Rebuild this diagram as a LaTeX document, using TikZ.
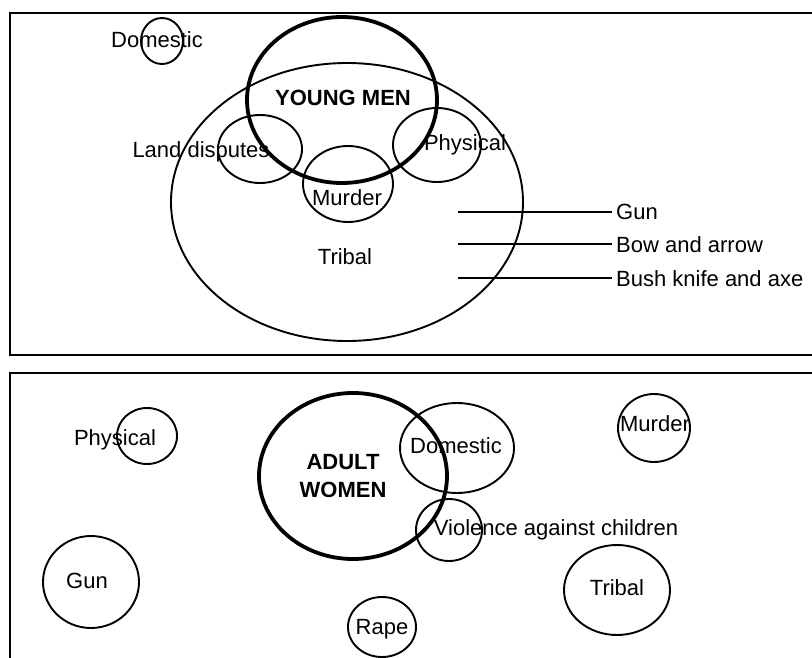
\documentclass[tikz,border=0pt]{standalone}
\usepackage{fontspec}
\setmainfont{Liberation Sans}
\usetikzlibrary{shapes.geometric}
\tikzset{
  ring/.style={draw, ellipse, line width=1.9pt, inner sep=0pt},
  thickring/.style={draw, ellipse, line width=3.8pt, inner sep=0pt},
  lbl/.style={inner sep=0pt, anchor=base, font=\fontsize{22}{28}\selectfont},
  boldlbl/.style={lbl, font=\fontsize{22}{28}\selectfont\bfseries},
  frame/.style={line width=2.6pt},
  weapon/.style={line width=2.8pt}
}
\begin{document}
\begin{tikzpicture}[x=1pt,y=-1pt]
\useasboundingbox (0,0) rectangle (812,658);
% frames
\draw[frame] (815,13) -- (10,13) -- (10,355) -- (815,355);
\draw[frame] (815,373) -- (10,373) -- (10,661);

% ---- top panel ----
\node[ring, minimum width=352pt, minimum height=278pt] (tribalE) at (347,202) {};
\node[ring, minimum width=42pt, minimum height=46pt] (domE) at (162,41) {};
\node[ring, minimum width=84pt, minimum height=68pt] (landE) at (260,149) {};
\node[ring, minimum width=90pt, minimum height=76pt] (murE) at (348,184) {};
\node[ring, minimum width=88pt, minimum height=74pt] (phyE) at (437,145) {};
\node[thickring, minimum width=190pt, minimum height=166pt] (ymE) at (342,100) {};

\node[lbl] (domT) at (157,48) {Domestic};
\node[boldlbl] (ymT) at (343,106) {YOUNG MEN};
\node[lbl] (landT) at (201,158) {Land disputes};
\node[lbl] (phyT) at (465,151) {Physical};
\node[lbl] (murT) at (347,206) {Murder};
\node[lbl] (tribT) at (345,265) {Tribal};

\node[lbl, anchor=base west] (gunT) at (616,220) {Gun};
\node[lbl, anchor=base west] (bowT) at (616,252) {Bow and arrow};
\node[lbl, anchor=base west] (bushT) at (616,286) {Bush knife and axe};
\coordinate (g0) at (458,212);
\coordinate (b0) at (458,244);
\coordinate (k0) at (458,278);
\draw[weapon] (g0) -- ([xshift=-4pt]gunT.west |- g0);
\draw[weapon] (b0) -- ([xshift=-4pt]bowT.west |- b0);
\draw[weapon] (k0) -- ([xshift=-4pt]bushT.west |- k0);

% ---- bottom panel ----
\node[ring, minimum width=60pt, minimum height=56pt] (phy2E) at (147,436) {};
\node[thickring, minimum width=188pt, minimum height=166pt] (awE) at (353,476) {};
\node[ring, minimum width=114pt, minimum height=90pt] (dom2E) at (457,448) {};
\node[ring, minimum width=72pt, minimum height=68pt] (mur2E) at (654,428) {};
\node[ring, minimum width=66pt, minimum height=62pt] (vioE) at (449,530) {};
\node[ring, minimum width=96pt, minimum height=92pt] (gun2E) at (91,582) {};
\node[ring, minimum width=106pt, minimum height=90pt] (trib2E) at (617,590) {};
\node[ring, minimum width=68pt, minimum height=60pt] (rapeE) at (382,627) {};

\node[lbl] (phy2T) at (115,445) {Physical};
\node[lbl, anchor=center, align=center, font=\fontsize{22}{28}\selectfont\bfseries] (awT) at (343,476) {ADULT\\WOMEN};
\node[lbl] (dom2T) at (456,453) {Domestic};
\node[lbl] (mur2T) at (655,431) {Murder};
\node[lbl] (vioT) at (556,535) {Violence against children};
\node[lbl] (gun2T) at (87,588) {Gun};
\node[lbl] (trib2T) at (617,595) {Tribal};
\node[lbl] (rapeT) at (382,634) {Rape};
\end{tikzpicture}
\end{document}
